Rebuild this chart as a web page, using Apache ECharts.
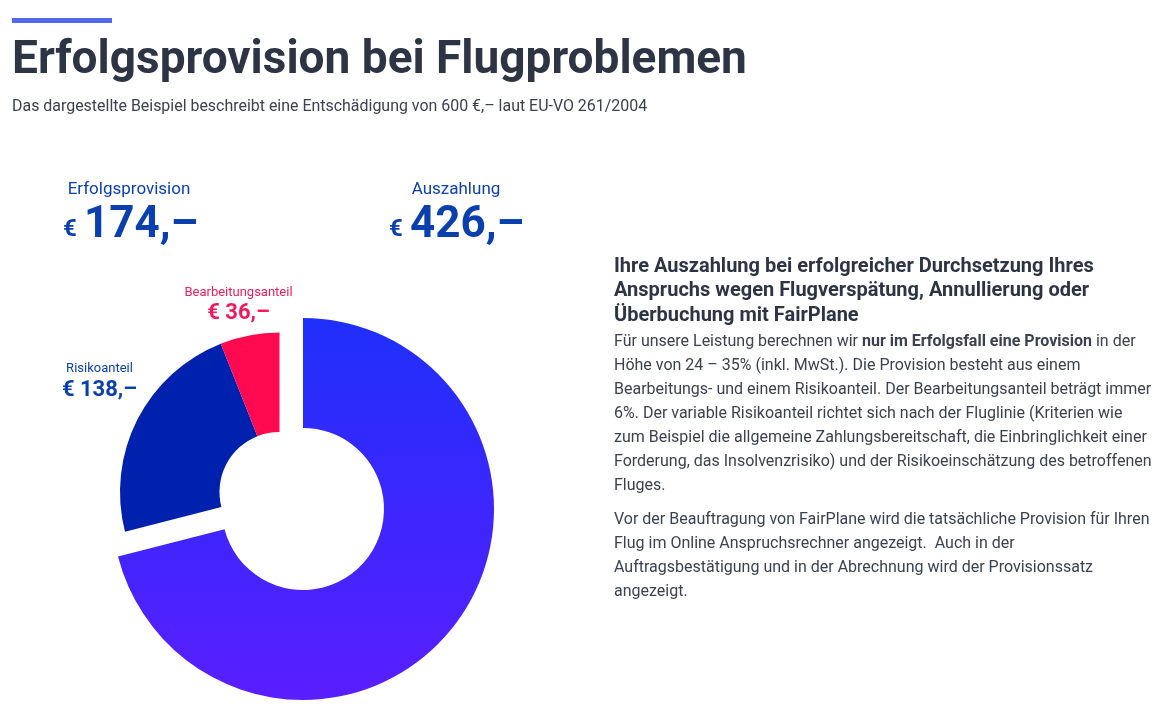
<!DOCTYPE html>
<html>
<head>
<meta charset="utf-8">
<title>Erfolgsprovision bei Flugproblemen</title>
<script src="https://cdn.jsdelivr.net/npm/echarts@6/dist/echarts.min.js"></script>
<style>
  html, body { margin: 0; padding: 0; background: #fff; }
  #main { width: 1172px; height: 726px; }
</style>
</head>
<body>
<div id="main"></div>
<script>
var categories = ['Auszahlung', 'Risikoanteil', 'Bearbeitungsanteil']
var values = [426, 138, 36]
var provisionLabel = 'Erfolgsprovision'
var provisionValue = 174

var titleText = 'Erfolgsprovision bei Flugproblemen'
var subtitleText = 'Das dargestellte Beispiel beschreibt eine Entschädigung von 600 €,– laut EU-VO 261/2004'
var headingLines = [
  'Ihre Auszahlung bei erfolgreicher Durchsetzung Ihres',
  'Anspruchs wegen Flugverspätung, Annullierung oder',
  'Überbuchung mit FairPlane'
]
var bodyLines = [
  'Für unsere Leistung berechnen wir {b|nur im Erfolgsfall eine Provision} in der',
  'Höhe von 24 – 35% (inkl. MwSt.). Die Provision besteht aus einem',
  'Bearbeitungs- und einem Risikoanteil. Der Bearbeitungsanteil beträgt immer',
  '6%. Der variable Risikoanteil richtet sich nach der Fluglinie (Kriterien wie',
  'zum Beispiel die allgemeine Zahlungsbereitschaft, die Einbringlichkeit einer',
  'Forderung, das Insolvenzrisiko) und der Risikoeinschätzung des betroffenen',
  'Fluges.'
]
var bodyLines2 = [
  'Vor der Beauftragung von FairPlane wird die tatsächliche Provision für Ihren',
  'Flug im Online Anspruchsrechner angezeigt.  Auch in der',
  'Auftragsbestätigung und in der Abrechnung wird der Provisionssatz',
  'angezeigt.'
]

var FONT = 'Roboto, sans-serif'
var DARK = '#2d3444'
var BODY = '#3a4150'
var BLUE = '#0a3fae'
var RED = '#f01a5c'

function text(x, y, str, size, weight, fill, align, rich) {
  return {
    type: 'text', x: x, y: y, silent: true,
    style: {
      text: str, fill: fill, align: align || 'left', verticalAlign: 'middle',
      font: weight + ' ' + size + 'px ' + FONT, rich: rich
    }
  }
}

var graphics = [
  { type: 'rect', silent: true, shape: { x: 12, y: 18, width: 100, height: 5 }, style: { fill: '#5468ee' } },
  text(12, 61, titleText, 46, 700, DARK),
  text(12, 107, subtitleText, 15.95, 400, BODY),
  text(129, 190, provisionLabel, 17, 400, BLUE, 'center'),
  text(63, 230, '€', 24, 700, BLUE),
  text(84, 226, provisionValue + ',–', 44, 700, BLUE),
  text(456, 190, categories[0], 17, 400, BLUE, 'center'),
  text(389, 230, '€', 24, 700, BLUE),
  text(410, 226, values[0] + ',–', 44, 700, BLUE)
]
headingLines.forEach(function (line, i) {
  graphics.push(text(614, 267 + i * 24.4, line, 20, 700, DARK))
})
var boldStyle = { b: { fontSize: 16, fontWeight: 700, fontFamily: FONT, color: DARK } }
bodyLines.forEach(function (line, i) {
  graphics.push(text(614, 342 + i * 24, line, 16, 400, BODY, 'left', boldStyle))
})
bodyLines2.forEach(function (line, i) {
  graphics.push(text(614, 520 + i * 24, line, 16, 400, BODY))
})

var bigGradient = new echarts.graphic.LinearGradient(0, 0, 0, 1, [
  { offset: 0, color: '#1f2ffb' },
  { offset: 1, color: '#5a1eff' }
])
var hidden = { itemStyle: { color: 'transparent' }, label: { show: false }, labelLine: { show: false } }

function amountLabel(v, cat, color) {
  return {
    show: true,
    formatter: '{a|' + cat + '}\n{v|€ ' + v + ',–}',
    rich: {
      a: { fontSize: 13, fontFamily: FONT, color: color, lineHeight: 18, align: 'center' },
      v: { fontSize: 22, fontWeight: 700, fontFamily: FONT, color: color, lineHeight: 24, align: 'center' }
    }
  }
}

var labelPos = { 1: { x: 99.5, y: 381 }, 2: { x: 238.5, y: 304.5 } }

var option = {
  animation: false,
  backgroundColor: '#fff',
  graphic: graphics,
  series: [
    {
      // grosses Segment
      type: 'pie', silent: true, startAngle: 90, clockwise: true,
      center: [303, 509], radius: [81, 191],
      label: { show: false }, labelLine: { show: false },
      data: [
        { name: categories[0], value: values[0], itemStyle: { color: bigGradient } },
        Object.assign({ name: 'rest', value: values[1] + values[2] }, hidden)
      ]
    },
    {
      // herausgezogene Segmente
      type: 'pie', silent: true, startAngle: 90, clockwise: true,
      center: [279.5, 492], radius: [60, 159.5],
      labelLine: { show: false },
      labelLayout: function (params) {
        var p = labelPos[params.dataIndex]
        return p ? { x: p.x, y: p.y, align: 'center', verticalAlign: 'middle' } : {}
      },
      data: [
        Object.assign({ name: 'rest', value: values[0] }, hidden),
        { name: categories[1], value: values[1], itemStyle: { color: '#0021ad' }, label: amountLabel(values[1], categories[1], BLUE) },
        { name: categories[2], value: values[2], itemStyle: { color: '#ff0a50' }, label: amountLabel(values[2], categories[2], RED) }
      ]
    }
  ]
}

var myChart = echarts.init(document.getElementById('main'))
myChart.setOption(option)
</script>
</body>
</html>
